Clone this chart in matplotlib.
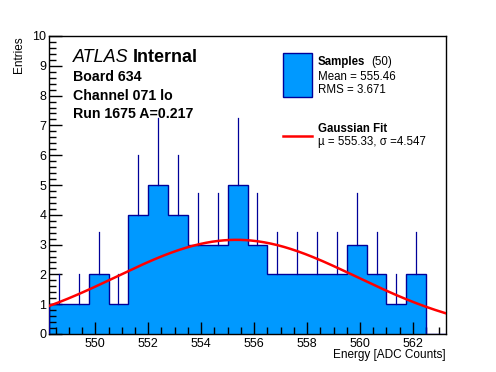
import numpy as np
import matplotlib
matplotlib.use("Agg")
import matplotlib.pyplot as plt
from matplotlib.ticker import MultipleLocator
from matplotlib.patches import Rectangle
from matplotlib.lines import Line2D

plt.rcParams['font.family'] = ['Liberation Sans', 'DejaVu Sans']

# ---- data ----
bin_edges_start = 548.25
bin_width = 0.75
counts = [1, 1, 2, 1, 4, 5, 4, 3, 3, 5, 3, 2, 2, 2, 2, 3, 2, 1, 2, 0]
fit_mu = 555.33
fit_sigma = 4.547
fit_amp = 3.16
x_range = [548.25, 563.25]
y_range = [0, 10]
x_tick_labels = [550, 552, 554, 556, 558, 560, 562]

fill_col = '#0099ff'
edge_col = '#000099'

edges = bin_edges_start + bin_width * np.arange(len(counts) + 1)
counts = np.array(counts, dtype=float)
centers = 0.5 * (edges[:-1] + edges[1:])

fig = plt.figure(figsize=(4.96, 3.72), dpi=100)
ax = fig.add_axes([49/496, 1 - 334/372, (446 - 49)/496, (334 - 36)/372])

# error bars (upper part only visible)
for c, n in zip(centers, counts):
    if n > 0:
        ax.plot([c, c], [n, n + np.sqrt(n)], color=edge_col, lw=0.9, zorder=2)

ax.stairs(counts, edges, fill=True, color=fill_col, zorder=1)
ax.stairs(counts, edges, fill=False, color=edge_col, lw=1.0, zorder=3)

xf = np.linspace(x_range[0], x_range[1], 300)
yf = fit_amp * np.exp(-0.5 * ((xf - fit_mu) / fit_sigma) ** 2)
ax.plot(xf, yf, color='red', lw=1.8, zorder=4)

ax.set_xlim(*x_range)
ax.set_ylim(*y_range)
ax.set_xticks(x_tick_labels)
ax.set_xticklabels([str(v) for v in x_tick_labels])
ax.xaxis.set_minor_locator(MultipleLocator(0.5))
ax.yaxis.set_major_locator(MultipleLocator(1))
ax.yaxis.set_minor_locator(MultipleLocator(0.2))
ax.tick_params(which='both', direction='in', top=False, right=False, labelsize=9, width=1)
ax.tick_params(which='major', length=9)
ax.tick_params(which='minor', length=5)
ax.tick_params(axis='x', pad=3)
ax.tick_params(axis='y', pad=2)
for s in ax.spines.values():
    s.set_linewidth(1.0)

fig.text(19/496, 1 - 36/372, 'Entries', rotation=90, ha='center', va='top', fontsize=8.5)
fig.text(446/496, 1 - 355/372, 'Energy [ADC Counts]', ha='right', va='center', fontsize=8.5)

# ATLAS labels
fig.text(73/496, 1 - 58/372, 'ATLAS', style='italic', fontsize=13, va='center', ha='left')
fig.text(133/496, 1 - 58/372, 'Internal', weight='bold', fontsize=13, va='center', ha='left')
fig.text(73/496, 1 - 77/372, 'Board 634', weight='bold', fontsize=10.2, va='center')
fig.text(73/496, 1 - 96/372, 'Channel 071 lo', weight='bold', fontsize=10.2, va='center')
fig.text(73/496, 1 - 114.5/372, 'Run 1675 A=0.217', weight='bold', fontsize=10.2, va='center')

# legend
fig.patches.append(Rectangle((283/496, 1 - 97/372), 29/496, 44/372, transform=fig.transFigure,
                             facecolor=fill_col, edgecolor=edge_col, lw=1.0))
fig.text(318/496, 1 - 62/372, 'Samples', weight='bold', fontsize=8.3, va='center')
fig.text(371/496, 1 - 62/372, '(50)', fontsize=8.3, va='center')
fig.text(318/496, 1 - 77/372, 'Mean = 555.46', fontsize=8.3, va='center')
fig.text(318/496, 1 - 90/372, 'RMS = 3.671', fontsize=8.3, va='center')
fig.lines.append(Line2D([283/496, 312/496], [1 - 136/372, 1 - 136/372], transform=fig.transFigure,
                        color='red', lw=1.8))
fig.text(318/496, 1 - 129/372, 'Gaussian Fit', weight='bold', fontsize=8.3, va='center')
fig.text(318/496, 1 - 142/372, 'µ = 555.33, σ =4.547', fontsize=8.3, va='center')

fig.savefig('out.png', dpi=100)
